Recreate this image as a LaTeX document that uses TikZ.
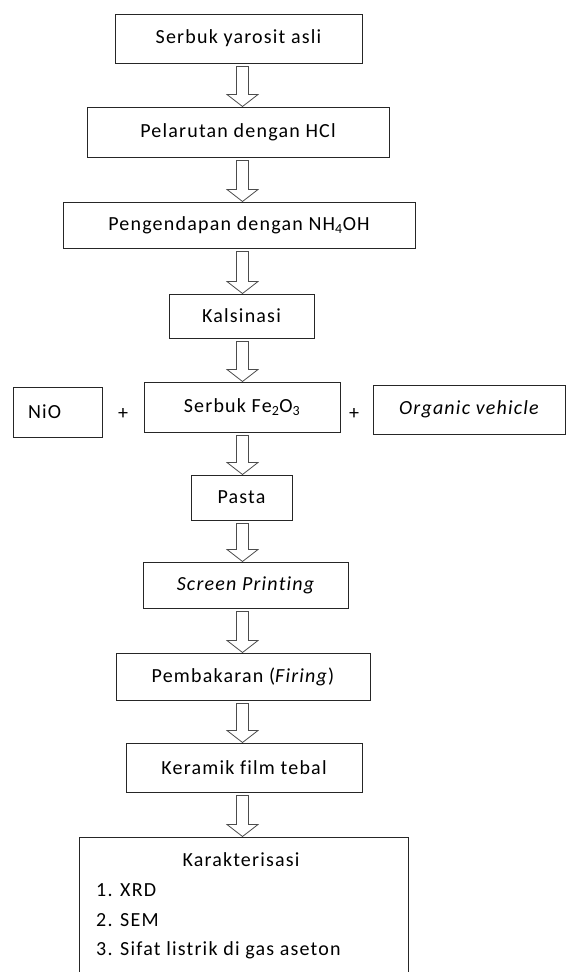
\documentclass[tikz,border=0pt]{standalone}
\usepackage{fontspec}
\setmainfont{Carlito}[LetterSpace=6,Ligatures=NoCommon]
\usetikzlibrary{calc}
\newcommand\fs{\fontsize{20}{24}\selectfont}
\tikzset{
  box/.style={draw=black!85, line width=1pt, inner sep=0pt, font=\fs, anchor=center},
  txt/.style={inner sep=0pt, font=\fs},
  blk/.style={draw=black!70, line width=0.8pt, fill=white, line join=miter},
}
\newcommand\blkarrow[2]{%
  \draw[blk] let \p1=(#1.south), \p2=(#2.north) in
    (236.5pt,\y1-3pt) -- (236.5pt,\y2+12pt) -- (227pt,\y2+12pt) -- (242.5pt,\y2)
    -- (258pt,\y2+12pt) -- (248.5pt,\y2+12pt) -- (248.5pt,\y1-3pt) -- cycle;}
\begin{document}
\begin{tikzpicture}[x=1pt,y=-1pt]
\clip (0,0) rectangle (566,972);
\fill[white] (0,0) rectangle (566,972);

\node[box, minimum width=247pt, minimum height=49pt] (b1) at (238.5,38.5) {Serbuk yarosit asli};
\node[box, minimum width=302pt, minimum height=50pt] (b2) at (238,132) {Pelarutan dengan HCl};
\node[box, minimum width=352pt, minimum height=46pt] (b3) at (239,225) {Pengendapan dengan NH\textsubscript{4}OH};
\node[box, minimum width=145pt, minimum height=44pt] (b4) at (241.5,316) {Kalsinasi};

\node[box, minimum height=50pt, text width=59pt, inner xsep=15pt, align=left] (nio) at (57.5,412) {NiO};
\node[txt] (p1) at (123,414) {+};
\node[box, minimum width=196pt, minimum height=50pt] (fe) at (242,407) {Serbuk Fe\textsubscript{2}O\textsubscript{3}};
\node[txt] (p2) at (354,414) {+};
\node[box, minimum width=192pt, minimum height=49pt] (org) at (469,409.5) {\itshape Organic vehicle};

\node[box, minimum width=101pt, minimum height=45pt] (pasta) at (241.5,497.5) {Pasta};
\node[box, minimum width=205pt, minimum height=46pt] (scr) at (245.5,585) {\itshape Screen Printing};
\node[box, minimum width=254pt, minimum height=47pt] (pemb) at (243,676.5) {Pembakaran (\textit{Firing})};
\node[box, minimum width=236pt, minimum height=49pt] (ker) at (244,767.5) {Keramik film tebal};
\node[box, minimum width=329pt, minimum height=160pt] (kar) at (243.5,917) {};

\node[txt] (kt) at (241,860) {Karakterisasi};
\node[txt, anchor=west] (k1) at (96,890) {1. XRD};
\node[txt, anchor=west] (k2) at (96,920) {2. SEM};
\node[txt, anchor=west] (k3) at (96,950) {3. Sifat listrik di gas aseton};

\blkarrow{b1}{b2}
\blkarrow{b2}{b3}
\blkarrow{b3}{b4}
\blkarrow{b4}{fe}
\blkarrow{fe}{pasta}
\blkarrow{pasta}{scr}
\blkarrow{scr}{pemb}
\blkarrow{pemb}{ker}
\blkarrow{ker}{kar}
\end{tikzpicture}
\end{document}
